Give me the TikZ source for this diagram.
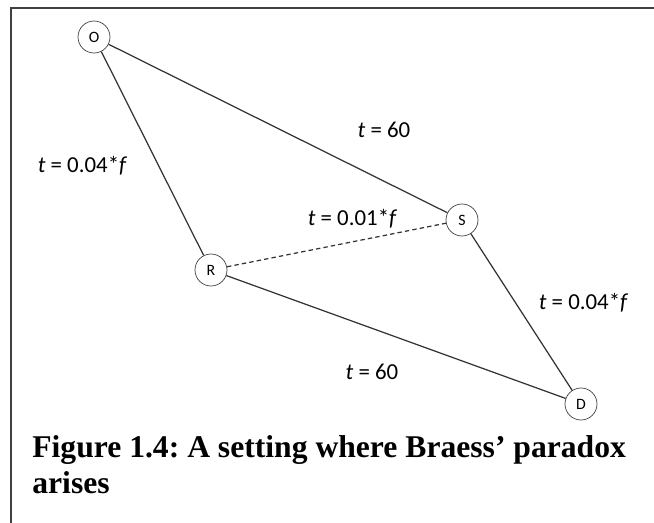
\documentclass[tikz,border=0pt]{standalone}
\usepackage{fontspec}
\setmainfont{Liberation Serif}
\newfontfamily\labelfont{Carlito}
\usepackage{tikz}
\frenchspacing

\begin{document}
\begin{tikzpicture}[scale=0.2]
            \tikzstyle{every node}+=[inner sep=0pt]
            \tikzstyle{vertex}=[draw=black!75,fill=white,circle,minimum size=0.64cm,font=\labelfont\fontsize{9}{9}\selectfont]
            \tikzstyle{road}=[draw=black!80,line width=0.7pt]
            \tikzstyle{cost}=[font=\labelfont\fontsize{13}{13}\selectfont]
            \useasboundingbox (0,0) rectangle (65.4,-52.3);
            \draw [black!75,line width=1.4pt] (1.1,-52.3) -- (1.1,-0.8) -- (65.4,-0.8);
            \node [vertex] (O) at (9.4,-3.7) {O};
            \node [vertex] (S) at (46.2,-22.0) {S};
            \node [vertex] (R) at (21.1,-27.0) {R};
            \node [vertex] (D) at (58.1,-40.4) {D};
            \draw [road] (O) -- (S);
            \draw [road] (O) -- (R);
            \draw [road,dash pattern=on 2.5pt off 1.8pt] (R) -- (S);
            \draw [road] (R) -- (D);
            \draw [road] (S) -- (D);
            \node [cost] (oS) at (38.4,-13.0) {{\itshape t} = 60};
            \node [cost] (oR) at (8.2,-16.6) {{\itshape t} = 0.04*{\itshape f}};
            \node [cost] (rS) at (35.2,-21.9) {{\itshape t} = 0.01*{\itshape f}};
            \node [cost] (sD) at (58.3,-30.3) {{\itshape t} = 0.04*{\itshape f}};
            \node [cost] (rD) at (37.2,-37.2) {{\itshape t} = 60};
            % base of a two-line node sits on its last line
            \node [anchor=base west,align=left,font=\fontsize{18}{20}\selectfont\bfseries] (cap) at (3.2,-49.3)
              {Figure 1.4: A setting where Braess’ paradox\\arises};
          \end{tikzpicture}
\end{document}
